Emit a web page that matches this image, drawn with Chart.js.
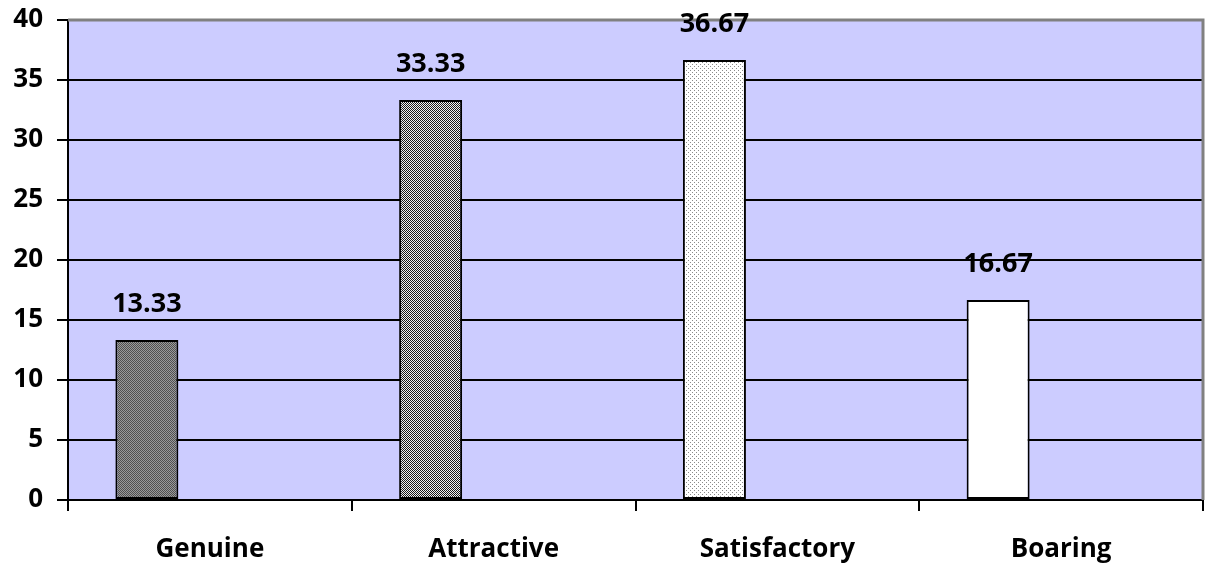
<!DOCTYPE html>
<html>
<head>
<meta charset="utf-8">
<script src="https://cdn.jsdelivr.net/npm/chart.js@4.4.0/dist/chart.umd.min.js"></script>
<style>
  html, body { margin: 0; padding: 0; background: #ffffff; }
  #wrap { width: 1211px; height: 565px; }
</style>
</head>
<body>
<div id="wrap"><canvas id="chart" width="1211" height="565"></canvas></div>
<script>
// Chart data
const categories = ['Genuine', 'Attractive', 'Satisfactory', 'Boaring'];
const percentValues = [13.33, 33.33, 36.67, 16.67];
const emptySeries = [null, null, null, null];
const yTicks = [0, 5, 10, 15, 20, 25, 30, 35, 40];

const FONT = '"Open Sans", "DejaVu Sans", sans-serif';

// Small tiled patterns that look like the old Excel fills
function makePattern(size, draw) {
    const c = document.createElement('canvas');
    c.width = size;
    c.height = size;
    const g = c.getContext('2d');
    draw(g);
    return document.getElementById('chart').getContext('2d').createPattern(c, 'repeat');
}

const genuineFill = makePattern(2, g => {
    g.fillStyle = '#9a9a9a'; g.fillRect(0, 0, 2, 2);
    g.fillStyle = '#505050'; g.fillRect(0, 0, 1, 1); g.fillRect(1, 1, 1, 1);
});
const attractiveFill = makePattern(2, g => {
    g.fillStyle = '#f0f0f0'; g.fillRect(0, 0, 2, 2);
    g.fillStyle = '#1a1a1a'; g.fillRect(0, 0, 1, 1); g.fillRect(1, 1, 1, 1);
});
const satisfactoryFill = makePattern(4, g => {
    g.fillStyle = '#ffffff'; g.fillRect(0, 0, 4, 4);
    g.fillStyle = '#8a8a8a'; g.fillRect(0, 0, 1, 1); g.fillRect(2, 2, 1, 1);
});
const barFills = [genuineFill, attractiveFill, satisfactoryFill, '#ffffff'];

// Lavender plot background + grey frame on top/right
const plotBackground = {
    id: 'plotBackground',
    beforeDraw(chart) {
        const { ctx, chartArea: a } = chart;
        ctx.save();
        ctx.fillStyle = '#ccccff';
        ctx.fillRect(a.left, a.top, a.right - a.left, a.bottom - a.top);
        ctx.restore();
    },
    beforeDatasetsDraw(chart) {
        const { ctx, chartArea: a } = chart;
        ctx.save();
        ctx.strokeStyle = '#808080';
        ctx.lineWidth = 3;
        ctx.beginPath();
        ctx.moveTo(a.left, a.top);
        ctx.lineTo(a.right, a.top);
        ctx.lineTo(a.right, a.bottom);
        ctx.stroke();
        ctx.restore();
    }
};

// Value labels above the bars
const valueLabels = {
    id: 'valueLabels',
    afterDatasetsDraw(chart) {
        const { ctx } = chart;
        const meta = chart.getDatasetMeta(0);
        ctx.save();
        ctx.font = 'bold 27px ' + FONT;
        ctx.fillStyle = '#000000';
        ctx.textAlign = 'center';
        ctx.textBaseline = 'middle';
        meta.data.forEach((bar, i) => {
            ctx.fillText(percentValues[i].toFixed(2), bar.x, bar.y - 36);
        });
        ctx.restore();
    }
};

new Chart(document.getElementById('chart'), {
    type: 'bar',
    data: {
        labels: categories,
        datasets: [
            {
                data: percentValues,
                backgroundColor: barFills,
                borderColor: '#000000',
                borderWidth: 2,
                borderSkipped: false
            },
            { data: emptySeries },
            { data: emptySeries }
        ]
    },
    options: {
        responsive: false,
        animation: false,
        categoryPercentage: 0.666,
        barPercentage: 1,
        layout: { padding: { top: 20, right: 8, left: 0, bottom: 0 } },
        plugins: {
            legend: { display: false },
            tooltip: { enabled: false }
        },
        scales: {
            x: {
                offset: true,
                grid: {
                    drawOnChartArea: false,
                    color: '#000000',
                    lineWidth: 2,
                    tickLength: 11
                },
                border: { color: '#000000', width: 2 },
                ticks: {
                    color: '#000000',
                    font: { family: FONT, size: 26, weight: 'bold' },
                    padding: 23
                },
                afterFit(scale) {
                    scale.height = 65;
                    scale.paddingLeft = 0;
                    scale.paddingRight = 0;
                }
            },
            y: {
                min: 0,
                max: 40,
                afterBuildTicks(scale) { scale.ticks = yTicks.map(v => ({ value: v })); },
                grid: {
                    color: ctx => (ctx.tick && ctx.tick.value === 40 ? '#808080' : '#000000'),
                    lineWidth: 2,
                    tickLength: 11,
                    tickColor: '#000000'
                },
                border: { color: '#000000', width: 2 },
                ticks: {
                    color: '#000000',
                    font: { family: FONT, size: 26, weight: 'bold' },
                    padding: 14
                },
                afterFit(scale) {
                    scale.width = 68;
                    scale.paddingTop = 0;
                    scale.paddingBottom = 0;
                }
            }
        }
    },
    plugins: [plotBackground, valueLabels]
});
</script>
</body>
</html>
